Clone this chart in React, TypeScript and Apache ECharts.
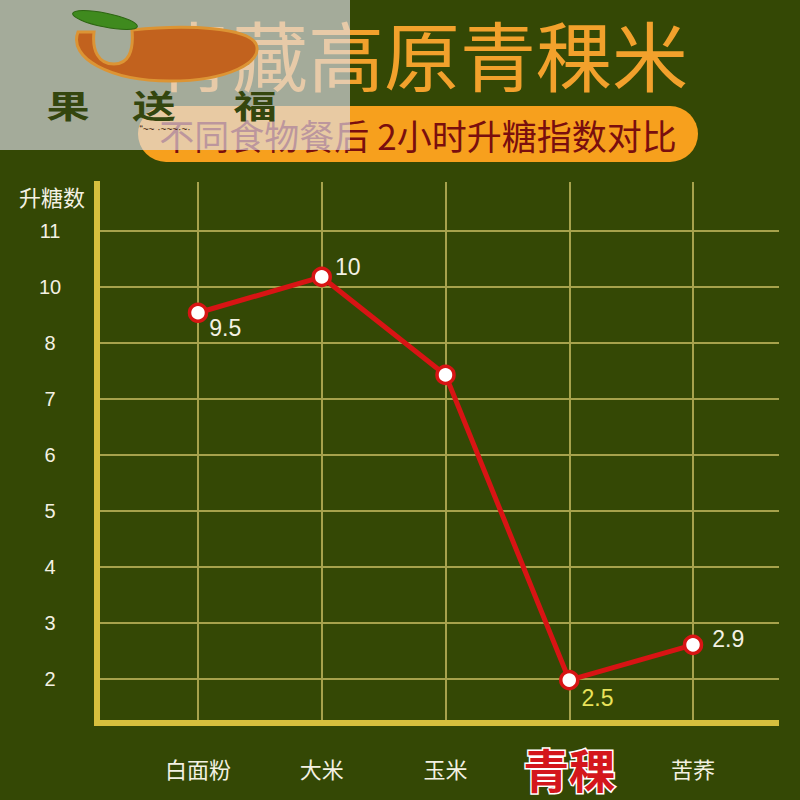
import * as echarts from "echarts";
import { useEffect, useRef } from "react";

const foods = ["白面粉", "大米", "玉米", "青稞", "苦荞"];
const highlightFood = "青稞";
// height of each point, measured in grid rows (row 2 = lowest line)
const riseLevels = [8.54, 9.18, 7.43, 1.98, 2.61];
const pointLabels = ["9.5", "10", "", "2.5", "2.9"];
// the nine horizontal lines and the numbers the picture prints on them (no 9)
const rowTicks = [2, 3, 4, 5, 6, 7, 8, 9, 10];
const rowLabels = ["2", "3", "4", "5", "6", "7", "8", "10", "11"];

const TITLE = "青藏高原青稞米";
const SUBTITLE = "不同食物餐后 2小时升糖指数对比";
const AXIS_NAME = "升糖数";
const BRAND = ["果", "送", "福"];

const BG = "#344805";
const GRID = "#a6a24c";
const AXIS = "#d6c03e";
const RED = "#d81414";
const TEXT = "#f3f1e3";
const CJK = "'Noto Sans CJK SC', sans-serif";
const NUM = "'Liberation Sans', 'Noto Sans CJK SC', sans-serif";

// layout in px
const LINES_TOP = 231;
const LINES_BOTTOM = 679;
const FRAME_TOP = 182;
const AXIS_Y = 723;
const ROW = (LINES_BOTTOM - LINES_TOP) / (rowTicks.length - 1);

// label placement for each point: offset from the "right" anchor, and colour
const labelPlacement: { offset: [number, number]; color: string }[] = [
  { offset: [-4, 15], color: TEXT },
  { offset: [-2, -10], color: TEXT },
  { offset: [0, 0], color: TEXT },
  { offset: [-3, 18], color: "#e8e25a" },
  { offset: [4, -6], color: TEXT },
];

const SWOOSH =
  "M78 32 C68 58 110 81 170 81 C228 81 264 62 256 44 C248 28 190 24 132 30 " +
  "C134 52 128 64 114 64 C98 64 92 50 94 32 Z";

let shapeRegistered = false;

export default function App() {
  const ref = useRef<HTMLDivElement>(null);

  useEffect(() => {
    document.body.style.margin = "0";
    if (!shapeRegistered) {
      echarts.graphic.registerShape("swoosh", echarts.graphic.extendPath(SWOOSH, {}));
      shapeRegistered = true;
    }
    const chart = echarts.init(ref.current!, null, { renderer: "svg" });

    const yMin = rowTicks[0] - (AXIS_Y - LINES_BOTTOM) / ROW;
    const yMax = rowTicks[rowTicks.length - 1] + (LINES_TOP - FRAME_TOP) / ROW;

    const option: echarts.EChartsOption = {
      animation: false,
      backgroundColor: BG,
      grid: [
        // horizontal lines + row numbers
        { left: 97, right: 21, top: LINES_TOP, bottom: 800 - LINES_BOTTOM },
        // thick frame
        { left: 97, right: 24, top: 184, bottom: 800 - AXIS_Y },
        // categories + data
        { left: 198, right: 107, top: FRAME_TOP, bottom: 800 - AXIS_Y },
      ],
      xAxis: [
        { gridIndex: 0, type: "value", show: false, min: 0, max: 1 },
        {
          gridIndex: 1,
          type: "value",
          min: 0,
          max: 1,
          axisLine: { show: true, onZero: false, lineStyle: { color: AXIS, width: 6, cap: "square" } },
          axisTick: { show: false },
          axisLabel: { show: false },
          splitLine: { show: false },
        },
        {
          gridIndex: 2,
          type: "category",
          boundaryGap: false,
          data: foods,
          axisLine: { show: false },
          axisTick: { show: false },
          splitLine: { show: true, lineStyle: { color: GRID, width: 2 } },
          axisLabel: {
            interval: 0,
            margin: 45,
            verticalAlign: "middle",
            color: TEXT,
            fontSize: 22,
            fontFamily: CJK,
            formatter: (v: string) => (v === highlightFood ? `{hl|${v}}` : v),
            rich: {
              hl: {
                fontSize: 46,
                fontWeight: "bold",
                fontFamily: CJK,
                color: "#d4161c",
                textBorderColor: "#ffffff",
                textBorderWidth: 3,
              },
            },
          },
        },
      ],
      yAxis: [
        {
          gridIndex: 0,
          type: "value",
          min: rowTicks[0],
          max: rowTicks[rowTicks.length - 1],
          interval: 1,
          axisLine: { show: false },
          axisTick: { show: false },
          splitLine: { show: true, lineStyle: { color: GRID, width: 2 } },
          axisLabel: {
            align: "center",
            margin: 47,
            color: TEXT,
            fontSize: 20,
            fontFamily: NUM,
            formatter: (v: number) => rowLabels[rowTicks.indexOf(v)] ?? "",
          },
        },
        {
          gridIndex: 1,
          type: "value",
          min: 0,
          max: 1,
          axisLine: { show: true, onZero: false, lineStyle: { color: AXIS, width: 6, cap: "square" } },
          axisTick: { show: false },
          axisLabel: { show: false },
          splitLine: { show: false },
        },
        { gridIndex: 2, type: "value", min: yMin, max: yMax, show: false },
      ],
      series: [
        {
          type: "line",
          xAxisIndex: 2,
          yAxisIndex: 2,
          data: riseLevels.map((v, i) => ({
            value: v,
            label: { offset: labelPlacement[i].offset, color: labelPlacement[i].color },
          })),
          symbol: "circle",
          symbolSize: 17,
          lineStyle: { color: RED, width: 5 },
          itemStyle: { color: "#ffffff", borderColor: RED, borderWidth: 3.5 },
          label: {
            show: true,
            position: "right",
            distance: 5,
            fontSize: 23,
            fontFamily: NUM,
            color: TEXT,
            formatter: (p: any) => pointLabels[p.dataIndex],
          },
          z: 5,
        },
      ],
      graphic: [
        {
          type: "text",
          x: 422,
          y: 53,
          style: {
            text: TITLE,
            fontSize: 76,
            fontFamily: CJK,
            fill: "#f2a12c",
            align: "center",
            verticalAlign: "middle",
          },
        },
        {
          type: "rect",
          shape: { x: 138, y: 106, width: 560, height: 56, r: 28 },
          style: { fill: "#f7a01d" },
        },
        {
          type: "text",
          x: 418,
          y: 134,
          style: {
            text: SUBTITLE,
            fontSize: 35,
            fontFamily: CJK,
            fill: "#7a0e0e",
            align: "center",
            verticalAlign: "middle",
          },
        },
        {
          type: "rect",
          shape: { x: 0, y: 0, width: 350, height: 150 },
          style: { fill: "rgba(225,225,235,0.65)" },
        },
        // logo
        {
          type: "swoosh",
          x: 0,
          y: 0,
          style: { fill: "#c2621e", stroke: "#dc9434", lineWidth: 3 },
        } as any,
        {
          type: "ellipse",
          x: 105,
          y: 20,
          rotation: -0.2,
          shape: { cx: 0, cy: 0, rx: 33, ry: 7 },
          style: { fill: "#3f8a1e", stroke: "#2d6612", lineWidth: 1 },
        },
        ...BRAND.map((ch, i) => ({
          type: "text" as const,
          x: [68, 154, 255][i],
          y: 104,
          scaleX: 1.35,
          style: {
            text: ch,
            fontSize: 32,
            fontFamily: CJK,
            fontWeight: "bold" as const,
            fill: "#34460e",
            align: "center" as const,
            verticalAlign: "middle" as const,
          },
        })),
        {
          type: "text",
          x: 165,
          y: 129,
          style: {
            text: "“~~ ·~~~·~·",
            fontSize: 10,
            fontFamily: NUM,
            fill: "#4a2a12",
            align: "center",
            verticalAlign: "middle",
          },
        },
        {
          type: "text",
          x: 52,
          y: 196,
          style: {
            text: AXIS_NAME,
            fontSize: 22,
            fontFamily: CJK,
            fill: TEXT,
            align: "center",
            verticalAlign: "middle",
          },
        },
      ],
    };

    chart.setOption(option);
    return () => chart.dispose();
  }, []);

  return <div ref={ref} style={{ width: 800, height: 800 }} />;
}
